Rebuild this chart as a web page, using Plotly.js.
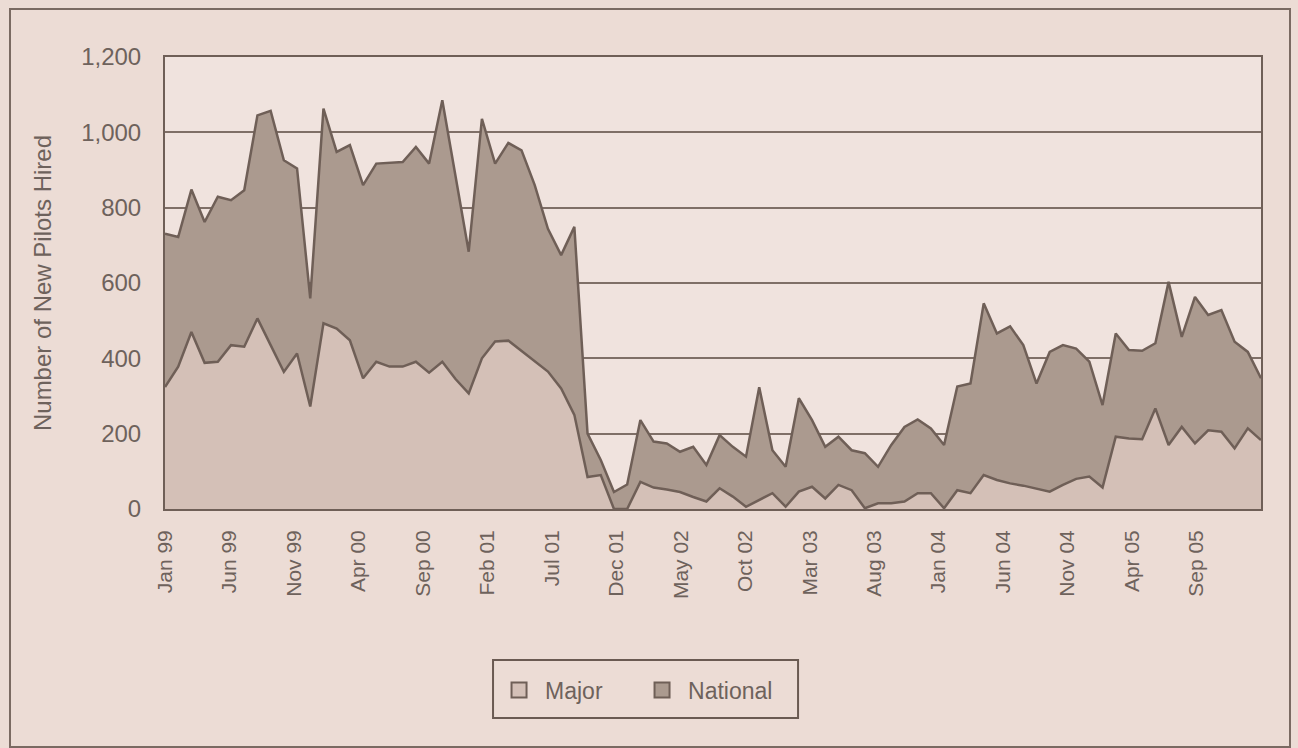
<!DOCTYPE html>
<html>
<head>
<meta charset="utf-8">
<script src="https://cdn.plot.ly/plotly-3.0.1.min.js"></script>
<style>
  html, body { margin: 0; padding: 0; background: #ecdcd5; }
  #wrap { position: relative; width: 1298px; height: 748px; }
  #chart { width: 1298px; height: 748px; }
  #frame { position: absolute; left: 9px; top: 8px; width: 1278px; height: 736px;
           border: 2px solid #7a6a62; pointer-events: none; }
</style>
</head>
<body>
<div id="wrap">
  <div id="chart"></div>
  <div id="frame"></div>
</div>
<script>
// Monthly categories of the data, Jan 99 - Dec 05
const monthNames = ["Jan","Feb","Mar","Apr","May","Jun","Jul","Aug","Sep","Oct","Nov","Dec"];
const years = ["99","00","01","02","03","04","05"];
const months = [];
years.forEach(y => monthNames.forEach(m => months.push(m + " " + y)));

// Month scale used for the date labels along the bottom (runs on to Feb 06)
const labelMonths = months.concat(["Jan 06", "Feb 06"]);

// New pilots hired per month at major carriers
const major = [
  324, 378, 470, 388, 391, 435, 431, 506, 435, 364, 413, 272,
  493, 479, 448, 347, 391, 378, 378, 391, 362, 391, 345, 307,
  400, 445, 447, 420, 393, 365, 320, 250,  85,  90,   0,   0,
   72,  57,  52,  45,  32,  20,  55,  33,   6,  24,  42,   6,
   46,  59,  28,  64,  50,   2,  15,  15,  20,  42,  42,   2,
   50,  42,  90,  77,  68,  62,  55,  46,  64,  80,  86,  57,
  192, 187, 185, 267, 170, 218, 174, 209, 205, 161, 214, 183
];

// New pilots hired per month at national carriers (stacked on top of major)
const national = [
  407, 344, 378, 374, 438, 385, 415, 539, 622, 562, 491, 287,
  570, 469, 518, 513, 526, 541, 543, 570, 555, 694, 535, 376,
  636, 472, 525, 532, 467, 379, 354, 499, 115,  40,  45,  65,
  164, 122, 122, 107, 133,  97, 141, 132, 133, 299, 114, 106,
  248, 177, 137, 128, 106, 146,  97, 155, 198, 196, 172, 168,
  275, 291, 456, 389, 417, 373, 278, 371, 371, 346, 305, 219,
  274, 235, 235, 173, 433, 239, 389, 306, 323, 283, 203, 164
];

// Axis tick labels every five months
const tickMonths = ["Jan 99","Jun 99","Nov 99","Apr 00","Sep 00","Feb 01","Jul 01","Dec 01",
                    "May 02","Oct 02","Mar 03","Aug 03","Jan 04","Jun 04","Nov 04","Apr 05","Sep 05"];
const yTicks = [0, 200, 400, 600, 800, 1000, 1200];

const lineCol = "#6f5f57";
const majorFill = "#d4c0b7";
const nationalFill = "#ab9a8f";
const textCol = "#6e625c";
const idx = months.map((_, i) => i);
const tickIdx = tickMonths.map(t => labelMonths.indexOf(t));

const traces = [
  {
    x: idx, y: major, name: "Major", type: "scatter", mode: "lines",
    stackgroup: "hires", fillcolor: majorFill,
    line: { color: lineCol, width: 2.5 }, showlegend: false, hoverinfo: "skip"
  },
  {
    x: idx, y: national, name: "National", type: "scatter", mode: "lines",
    stackgroup: "hires", fillcolor: nationalFill,
    line: { color: lineCol, width: 2.5 }, showlegend: false, hoverinfo: "skip"
  },
  // legend keys drawn as outlined squares, placed on the label axis
  {
    x: [null], y: [null], name: "Major", type: "scatter", mode: "markers", xaxis: "x2",
    marker: { symbol: "square", size: 15, color: majorFill, line: { color: lineCol, width: 2 } }
  },
  {
    x: [null], y: [null], name: "National", type: "scatter", mode: "markers", xaxis: "x2",
    marker: { symbol: "square", size: 15, color: nationalFill, line: { color: lineCol, width: 2 } }
  }
];

const layout = {
  width: 1298, height: 748,
  margin: { l: 165, r: 37, t: 57, b: 239 },
  paper_bgcolor: "#ecdcd5",
  plot_bgcolor: "#f0e3de",
  font: { family: "Liberation Sans, Arial, sans-serif", color: textCol, size: 21 },
  showlegend: true,
  legend: {
    orientation: "h", traceorder: "normal",
    x: 0.2993, xanchor: "left", y: -0.4004, yanchor: "middle",
    bgcolor: "rgba(0,0,0,0)", borderwidth: 0,
    font: { size: 23, color: textCol }, entrywidth: 86, itemwidth: 42
  },
  shapes: [
    // legend frame
    { type: "rect", xref: "paper", yref: "paper",
      x0: 0.2993, x1: 0.5776, y0: -0.4624, y1: -0.3341,
      line: { color: "#6a5a52", width: 2 }, fillcolor: "rgba(0,0,0,0)" }
  ],
  xaxis: {
    range: [0, months.length - 1],
    showticklabels: false, ticks: "",
    showgrid: false, zeroline: false,
    showline: true, linecolor: lineCol, linewidth: 2, mirror: true
  },
  xaxis2: {
    overlaying: "x", anchor: "y", side: "bottom",
    range: [0, labelMonths.length - 1],
    tickmode: "array", tickvals: tickIdx, ticktext: tickMonths,
    tickangle: -90, ticks: "", ticklabelstandoff: 16,
    showgrid: false, zeroline: false, showline: false,
    tickfont: { size: 21, color: textCol }
  },
  yaxis: {
    range: [0, 1200], tickmode: "array", tickvals: yTicks,
    tickformat: ",d", ticks: "", ticklabelstandoff: 17,
    showgrid: true, gridcolor: "#7f6f67", gridwidth: 2,
    zeroline: false,
    showline: true, linecolor: lineCol, linewidth: 2, mirror: true,
    tickfont: { size: 24, color: textCol },
    title: { text: "Number of New Pilots Hired", font: { size: 24, color: textCol }, standoff: 23 }
  }
};

Plotly.newPlot("chart", traces, layout, { staticPlot: true, displayModeBar: false });
</script>
</body>
</html>
